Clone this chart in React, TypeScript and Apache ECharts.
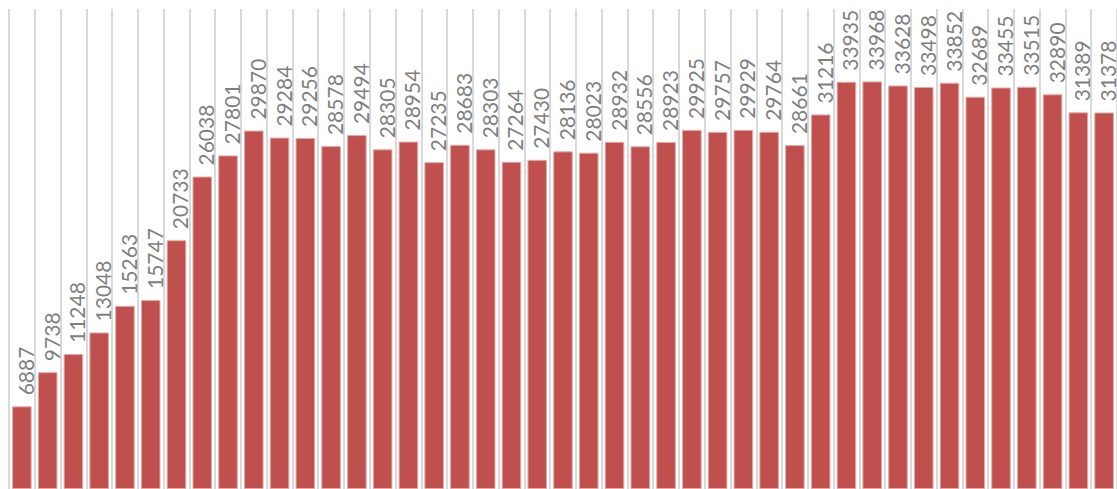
import React, { useEffect, useRef } from "react";
import * as echarts from "echarts";

const categories: string[] = Array.from({ length: 43 }, (_, i) => String(i + 1));
const values: number[] = [
  6887, 9738, 11248, 13048, 15263, 15747, 20733, 26038, 27801, 29870,
  29284, 29256, 28578, 29494, 28305, 28954, 27235, 28683, 28303, 27264,
  27430, 28136, 28023, 28932, 28556, 28923, 29925, 29757, 29929, 29764,
  28661, 31216, 33935, 33968, 33628, 33498, 33852, 32689, 33455, 33515,
  32890, 31389, 31378,
];

export default function App() {
  const ref = useRef<HTMLDivElement>(null);
  useEffect(() => {
    if (!ref.current) return;
    const chart = echarts.init(ref.current, null, { renderer: "svg" });
    chart.setOption({
      animation: false,
      grid: { left: 9, right: -3, top: 9, bottom: -5.3, containLabel: false },
      xAxis: {
        type: "category",
        data: categories,
        axisLine: { show: false },
        axisTick: { show: false },
        axisLabel: { show: false },
        splitLine: { show: true, lineStyle: { color: "#d9d9d9", width: 2 } },
      },
      yAxis: {
        type: "value",
        min: 0,
        max: 40000,
        axisLine: { show: false },
        axisTick: { show: false },
        axisLabel: { show: false },
        splitLine: { show: false },
      },
      series: [
        {
          type: "bar",
          data: values,
          barCategoryGap: "24%",
          itemStyle: { color: "#c0504d", borderColor: "#e3aaa8", borderWidth: 1 },
          label: {
            show: true,
            position: "top",
            rotate: 90,
            align: "left",
            verticalAlign: "middle",
            distance: 11,
            offset: [0, 3.5],
            color: "#7f7f7f",
            fontSize: 21,
            fontFamily: "Lato, sans-serif",
          },
        },
      ],
    });
    return () => chart.dispose();
  }, []);
  return (
    <div
      ref={ref}
      style={{ position: "absolute", left: 0, top: 0, width: 1117, height: 489 }}
    />
  );
}
